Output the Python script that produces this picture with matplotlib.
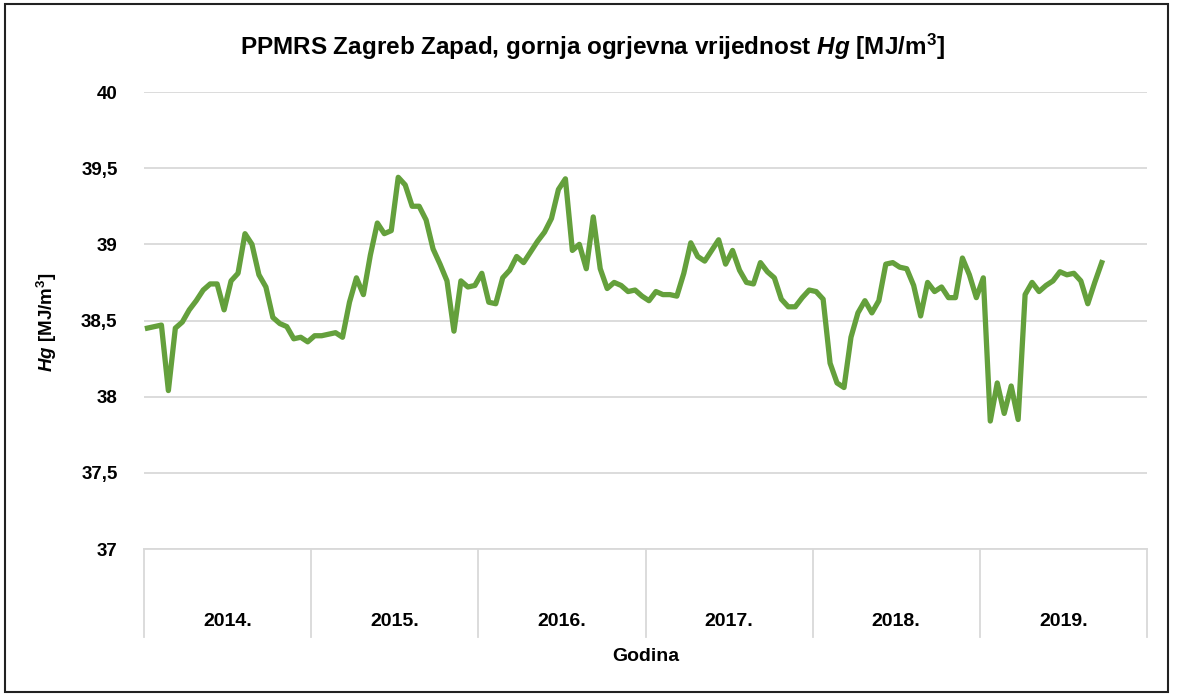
import numpy as np
import matplotlib
matplotlib.use("Agg")
import matplotlib.pyplot as plt
from matplotlib.patches import Rectangle

# Hg values, 24 readings per year (2019 ends early)
hg_2014 = [38.45, 38.46, 38.47, 38.04, 38.45, 38.49, 38.57, 38.63, 38.70, 38.74, 38.74, 38.57,
           38.76, 38.81, 39.07, 39.00, 38.80, 38.72, 38.52, 38.48, 38.46, 38.38, 38.39, 38.36]
hg_2015 = [38.40, 38.40, 38.41, 38.42, 38.39, 38.62, 38.78, 38.67, 38.93, 39.14, 39.07, 39.09,
           39.44, 39.39, 39.25, 39.25, 39.16, 38.97, 38.87, 38.76, 38.43, 38.76, 38.72, 38.73]
hg_2016 = [38.81, 38.62, 38.61, 38.78, 38.83, 38.92, 38.88, 38.95, 39.02, 39.08, 39.17, 39.36,
           39.43, 38.96, 39.00, 38.84, 39.18, 38.84, 38.71, 38.75, 38.73, 38.69, 38.70, 38.66]
hg_2017 = [38.63, 38.69, 38.67, 38.67, 38.66, 38.81, 39.01, 38.92, 38.89, 38.96, 39.03, 38.87,
           38.96, 38.83, 38.75, 38.74, 38.88, 38.82, 38.78, 38.64, 38.59, 38.59, 38.65, 38.70]
hg_2018 = [38.69, 38.64, 38.22, 38.09, 38.06, 38.39, 38.55, 38.63, 38.55, 38.63, 38.87, 38.88,
           38.85, 38.84, 38.73, 38.53, 38.75, 38.69, 38.72, 38.65, 38.65, 38.91, 38.80, 38.65]
hg_2019 = [38.78, 37.84, 38.09, 37.89, 38.07, 37.85, 38.67, 38.75, 38.69, 38.73, 38.76, 38.82,
           38.80, 38.81, 38.76, 38.61, 38.75, 38.88]

years = ["2014.", "2015.", "2016.", "2017.", "2018.", "2019."]
series = [hg_2014, hg_2015, hg_2016, hg_2017, hg_2018, hg_2019]
slots = 24  # category slots per year on the axis

yticks = [37, 37.5, 38, 38.5, 39, 39.5, 40]
ytick_labels = ["37", "37,5", "38", "38,5", "39", "39,5", "40"]

plt.rcParams['font.family'] = ['Liberation Sans', 'DejaVu Sans']
plt.rcParams['mathtext.fontset'] = 'custom'
plt.rcParams['mathtext.rm'] = 'Liberation Sans:bold'
plt.rcParams['mathtext.it'] = 'Liberation Sans:italic:bold'

x = []
y = []
for k in range(len(series)):
    for j in range(slots):
        x.append(k*slots + j)
        if j < len(series[k]):
            y.append(series[k][j])
        else:
            y.append(np.nan)

fig = plt.figure(figsize=(11.79, 6.96), dpi=100)
ax = fig.add_axes([144/1179, 1-549/696, (1147-144)/1179, (549-92)/696])

ax.plot(x, y, color='#64A03C', lw=3.8, solid_joinstyle='round', zorder=3)

ax.set_xlim(-0.5, len(series)*slots - 0.5)
ax.set_ylim(37, 40)
ax.set_yticks(yticks)
ax.set_yticklabels(ytick_labels, fontsize=13.5, fontweight='bold')
ax.tick_params(axis='y', length=0, pad=19)
ax.set_xticks([])
ax.grid(axis='y', color='#D9D9D9', lw=1.3, zorder=0)
for s in ['top', 'left', 'right']:
    ax.spines[s].set_visible(False)
ax.spines['bottom'].set_color('#D9D9D9')
ax.spines['bottom'].set_linewidth(1.3)

# year group axis below the plot
trans = ax.get_xaxis_transform()
for k in range(len(series) + 1):
    ax.plot([k*slots - 0.5, k*slots - 0.5], [0, -0.193], transform=trans,
            color='#D9D9D9', lw=1.3, clip_on=False)
for k in range(len(series)):
    ax.text(k*slots + slots/2 - 0.5, -0.158, years[k], transform=trans,
            ha='center', va='center', fontsize=14, fontweight='bold')

ax.text(0.5, -0.236, "Godina", transform=ax.transAxes, ha='center', va='center',
        fontsize=14, fontweight='bold')
fig.text(47/1179, 1-322/696, r"$\mathit{Hg}$ [MJ/m$^3$]", rotation=90, ha='center', va='center',
         fontsize=13.5, fontweight='bold')
fig.text(592/1179, 1-47/696, r"PPMRS Zagreb Zapad, gornja ogrjevna vrijednost $\mathit{Hg}$ [MJ/m$^3$]",
         ha='center', va='center', fontsize=17.5, fontweight='bold')

fig.patches.append(Rectangle((5/1179, 4/696), 1163/1179, 688/696, transform=fig.transFigure,
                             fill=False, edgecolor='#222222', lw=1.5))

fig.savefig('out.png', dpi=100)
